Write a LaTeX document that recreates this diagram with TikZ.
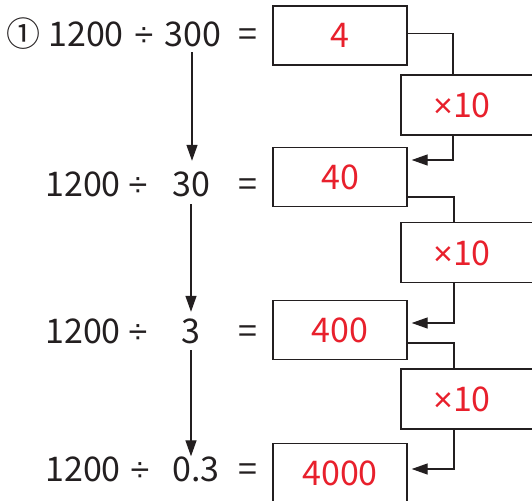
\documentclass[tikz,border=0pt]{standalone}
\usepackage{fontspec}
\setmainfont{Noto Sans CJK JP}
\newfontfamily\opfont{Liberation Sans}
\usetikzlibrary{arrows.meta}
\definecolor{ansred}{RGB}{232,32,44}
\definecolor{ink}{RGB}{35,31,32}

\begin{document}
\begin{tikzpicture}[x=1pt,y=-1pt,
  every node/.style={inner sep=0pt,text height=25pt,text depth=0pt,text=ink,
    font=\fontsize{34pt}{40pt}\selectfont},
  ans/.style={draw=ink,line width=1.4pt,minimum width=134pt,minimum height=59pt,text=ansred},
  times/.style={draw=ink,line width=1.4pt,minimum width=144pt,minimum height=60pt,
    label={[text=ansred,xshift=-11pt]center:{\opfont ×}10}},
  link/.style={draw=ink,line width=1.3pt},
  arr/.style={link,-{Triangle[length=16pt,width=11pt]}}]
 % \draw[help lines] (0,0) grid (532,500);
  \useasboundingbox (0,0) rectangle (532,500);
  \clip (0,0) rectangle (532,500);
  % left column
  \node (c1) at (23,34.5)  {①};
  \node (n1) at (86,34.5)  {1200};
  \node (s1) at (144,34.5) {\opfont ÷};
  \node (d1) at (193,34.5) {300};
  \node (e1) at (248,34.5) {=};
  \node (n2) at (83,183.5)  {1200};
  \node (s2) at (138,183.5) {\opfont ÷};
  \node (d2) at (191,183.5) {30};
  \node (e2) at (248,183.5) {=};
  \node (n3) at (83,330.5)  {1200};
  \node (s3) at (138,330.5) {\opfont ÷};
  \node (d3) at (191,330.5) {3};
  \node (e3) at (248,330.5) {=};
  \node (n4) at (83,469)  {1200};
  \node (s4) at (140,469) {\opfont ÷};
  \node (d4) at (196,469) {0.3};
  \node (e4) at (248,469) {=};
  % answers
  \node[ans] (a1) at (340,35.5) {4};
  \node[ans] (a2) at (340,177)  {40};
  \node[ans] (a3) at (340,330)  {400};
  \node[ans] (a4) at (340,473)  {4000};
  % times ten
  \node[times] (m1) at (473,105)   {};
  \node[times] (m2) at (473,252.5) {};
  \node[times] (m3) at (473,399)   {};
  % arrows down
  \draw[arr,shorten <=5pt,shorten >=10pt] ([xshift=-1pt]d1.south) -- ([xshift=-1pt]d1.south |- d2.north);
  \draw[arr,shorten <=8pt,shorten >=6pt] (d2.south) -- (d2.south |- d3.north);
  \draw[arr,shorten <=7pt,shorten >=0pt] (d3.south) -- (d3.south |- d4.north);
  % right side
  \draw[link] ([yshift=2pt]a1.east) -| ([xshift=-20pt]m1.north);
  \draw[arr,shorten >=4pt] ([xshift=-20pt]m1.south) |- ([yshift=17pt]a2.east);
  \draw[link] ([yshift=-20pt]a2.east) -| ([xshift=-19pt]m2.north);
  \draw[arr,shorten >=4pt] ([xshift=-19pt]m2.south) |- ([yshift=7pt]a3.east);
  \draw[link] ([yshift=-13pt]a3.east) -| ([xshift=-19pt]m3.north);
  \draw[arr,shorten >=4pt] ([xshift=-19pt]m3.south) |- ([yshift=4pt]a4.east);
\end{tikzpicture}
\end{document}
